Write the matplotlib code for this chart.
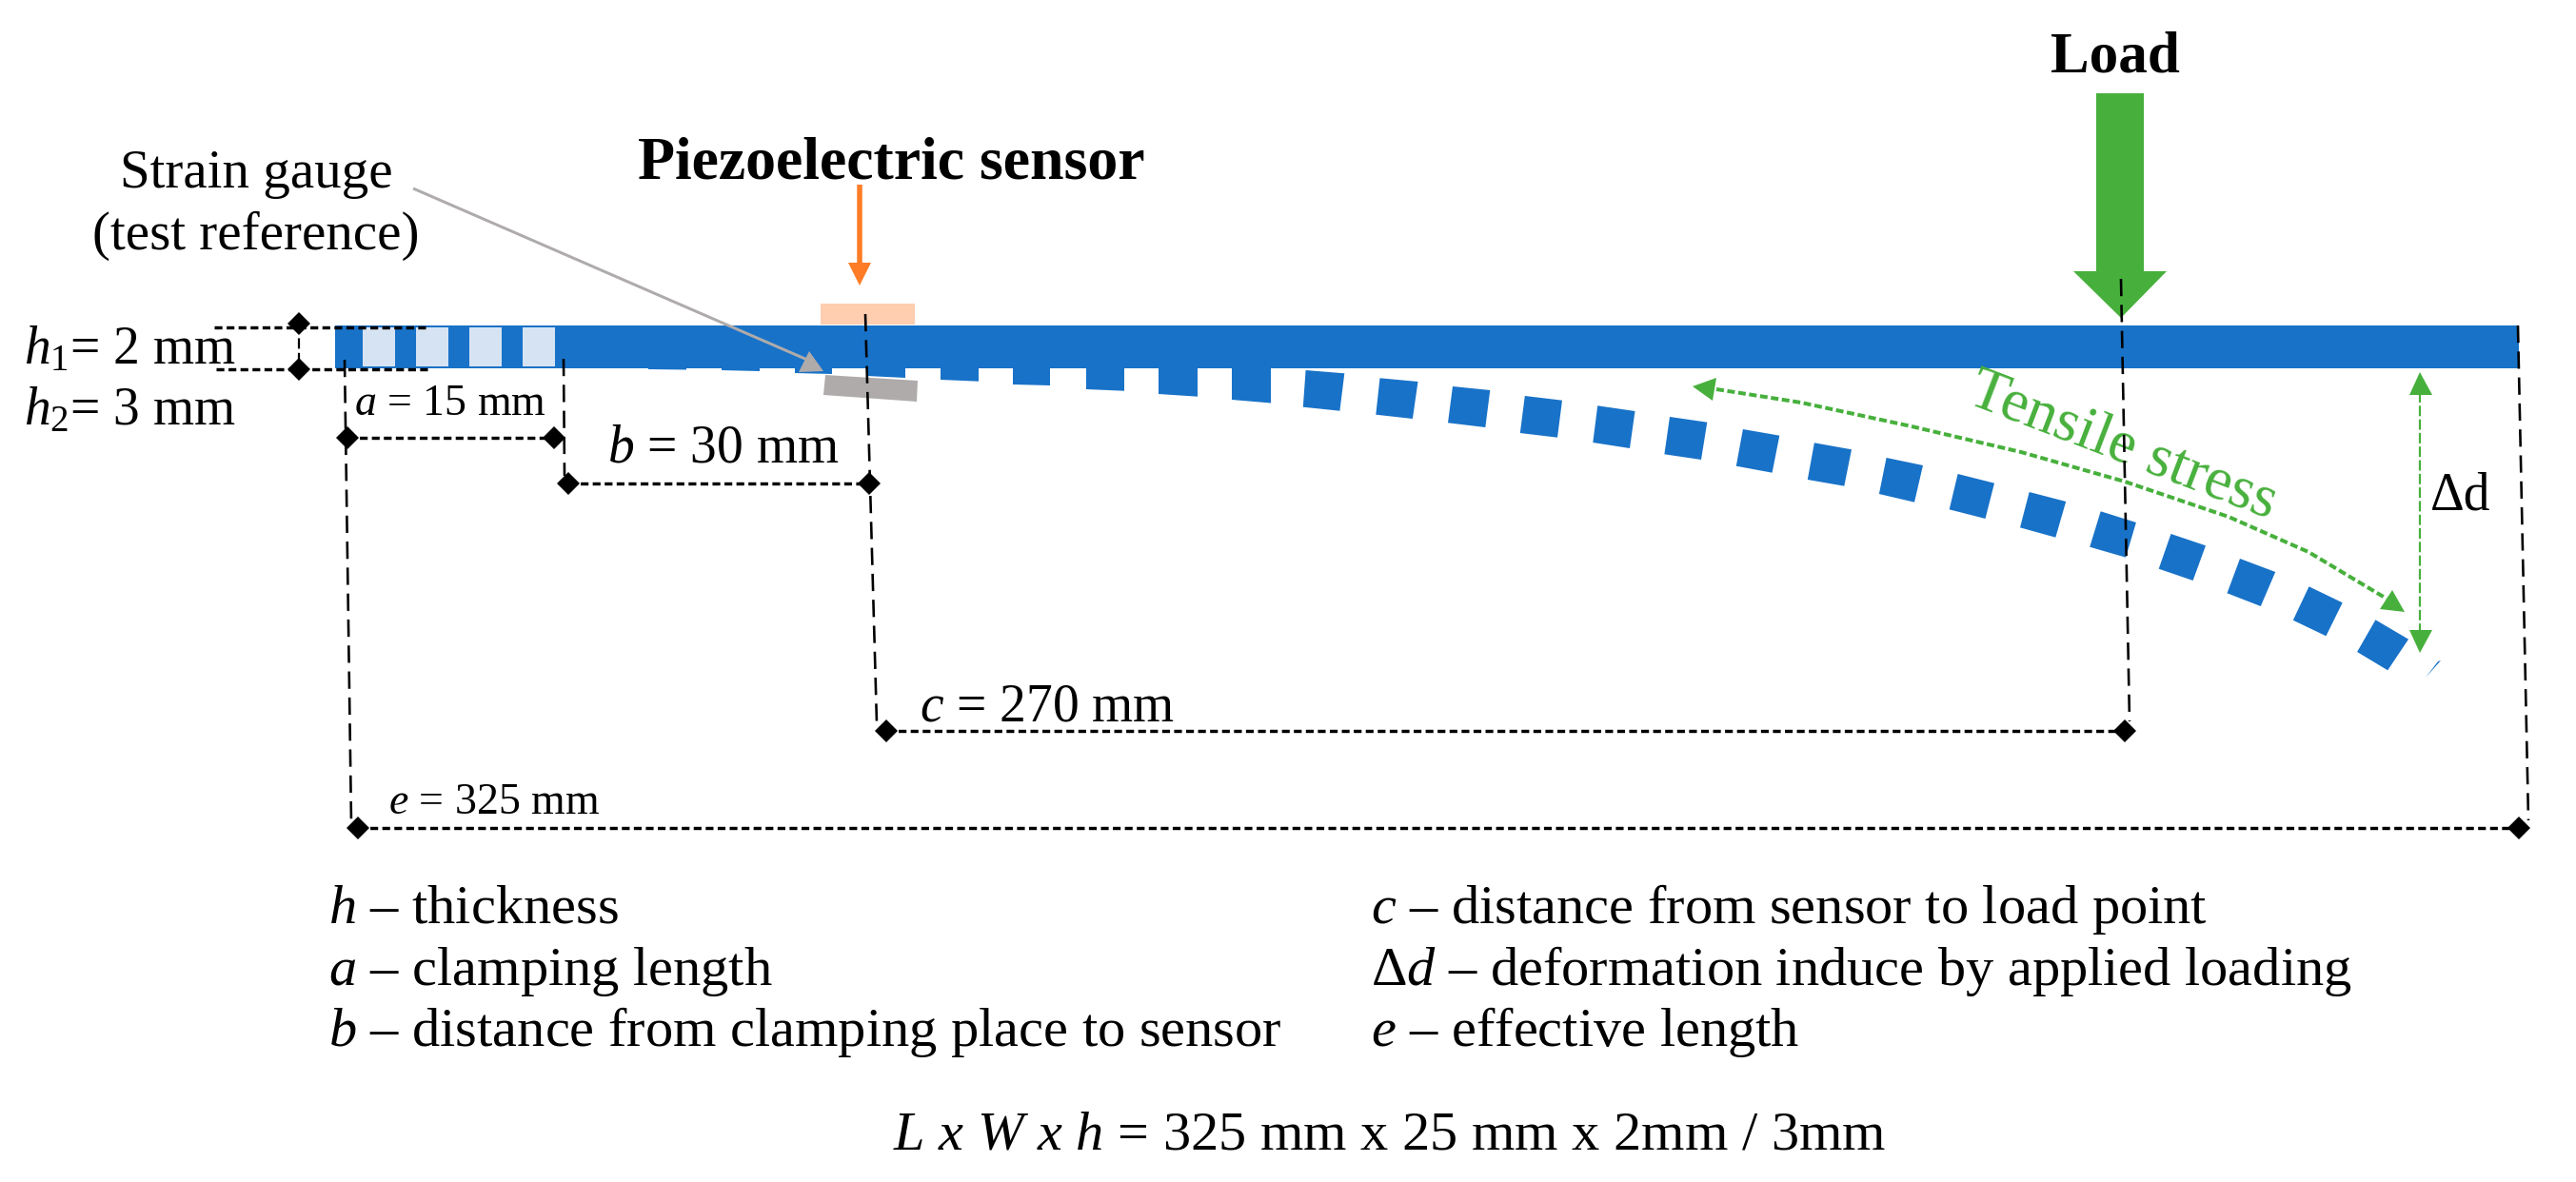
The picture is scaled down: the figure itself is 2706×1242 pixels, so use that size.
import matplotlib
matplotlib.use('Agg')
import matplotlib.pyplot as plt

plt.rcParams['font.family'] = ['Liberation Serif', 'DejaVu Serif']
plt.rcParams['mathtext.fontset'] = 'custom'
plt.rcParams['mathtext.rm'] = 'Liberation Serif'
plt.rcParams['mathtext.it'] = 'Liberation Serif:italic'
plt.rcParams['mathtext.bf'] = 'Liberation Serif:bold'

BLUE = '#1872C8'
GREEN = '#47B03C'
ORANGE = '#FE7C26'
GRAY = '#AFABAB'

# beam and clamp, in picture pixels
beam_x = [352, 2646]
beam_y = [342, 387]
clamp_left = [381, 437, 493, 549]
clamp_right = [415, 471, 527, 583]
clamp_y = [344, 385]

# teeth still hanging from the straight beam: left, right, bottom at left, bottom at right
hang_left = [681, 758, 835, 910, 988, 1064, 1141, 1217, 1294]
hang_right = [721, 798, 874, 951, 1028, 1103, 1181, 1258, 1335]
hang_bottom_l = [388, 389, 392, 395, 399, 404, 409, 414, 420]
hang_bottom_r = [388.5, 390, 393, 397, 400.7, 405, 410.7, 416.7, 423.5]

# free teeth of the bent beam: corners top-left, top-right, bottom-right, bottom-left
free_tl_x = [1371.6, 1449.5, 1526, 1601.8, 1678.2, 1754, 1830.9, 1905.9, 1981.6, 2056.6, 2131.7, 2206.7, 2280.5, 2353, 2425.5, 2495.4]
free_tl_y = [389, 397.3, 406, 416, 426.3, 438, 451, 465.3, 481, 498, 517, 537.3, 561, 587, 616.3, 651.3]
free_tr_x = [1412.3, 1489.5, 1565.3, 1641, 1717.5, 1793.3, 1869.3, 1945, 2020, 2095, 2170.2, 2243.9, 2317, 2390.2, 2460.7, 2530]
free_tr_y = [392.3, 401, 410, 420.7, 432, 443.7, 457.7, 472.3, 489, 507.7, 527, 549, 573.3, 601, 633.3, 671.7]
free_br_x = [1407.4, 1483.9, 1560.3, 1636, 1712, 1787, 1861.6, 1937.3, 2011, 2085.5, 2159.3, 2233, 2303.6, 2374.8, 2443.4, 2508.2]
free_br_y = [431.7, 440, 449, 459.7, 471, 483, 496.7, 510.7, 527.7, 545, 564.7, 585.7, 610, 637, 668.3, 704.3]
free_bl_x = [1368.8, 1445.3, 1521, 1596.8, 1673.3, 1748.4, 1823.8, 1898.8, 1973.9, 2047.7, 2122, 2195.2, 2267.7, 2339.5, 2408.8, 2476.1]
free_bl_y = [427.7, 435.7, 444.3, 455, 465, 477.3, 489.7, 504, 519, 535.3, 554.3, 574.7, 597.7, 623.3, 651.7, 685]
sliver_x = [2564, 2561, 2548]
sliver_y = [694, 695, 712]

# sensor and gauge
sensor_x = [862, 961]
sensor_y = [319, 341]
gauge_x = [867, 964, 963, 865]
gauge_y = [394, 400, 422, 415]

# dimension lines: (x0, x1, y) and guides (x0, y0, x1, y1)
dim_x0 = [365, 597, 931, 376]
dim_x1 = [582, 913, 2232, 2646]
dim_y = [460, 508, 768, 870]
guide_x0 = [362, 592, 909, 2228, 2645]
guide_y0 = [378, 377, 330, 293, 342]
guide_x1 = [369, 593, 921, 2237, 2656]
guide_y1 = [865, 500, 760, 758, 862]

# tensile stress curve
curve_x = [1803, 1892, 2008, 2123, 2232, 2341, 2425, 2507]
curve_y = [409, 423, 448, 475, 506, 543, 580, 629]

fig, ax = plt.subplots(figsize=(27.06, 12.42), dpi=100)
ax.set_position([0, 0, 1, 1])
ax.set_xlim(0, 2706)
ax.set_ylim(1242, 0)
ax.axis('off')


def px(n):
    return n * 0.72


def arrow_head(tip, left, right, color, z=5):
    ax.fill([tip[0], left[0], right[0]], [tip[1], left[1], right[1]], color=color, lw=0, zorder=z)


# beam
ax.fill([beam_x[0], beam_x[1], beam_x[1], beam_x[0]], [beam_y[0], beam_y[0], beam_y[1], beam_y[1]], color=BLUE, lw=0, zorder=2)
for l, r in zip(clamp_left, clamp_right):
    ax.fill([l, r, r, l], [clamp_y[0], clamp_y[0], clamp_y[1], clamp_y[1]], color='#D6E3F3', lw=0, zorder=3)
for l, r, bl, br in zip(hang_left, hang_right, hang_bottom_l, hang_bottom_r):
    ax.fill([l, r, r, l], [beam_y[1], beam_y[1], br, bl], color=BLUE, lw=0, zorder=2)
for i in range(len(free_tl_x)):
    ax.fill([free_tl_x[i], free_tr_x[i], free_br_x[i], free_bl_x[i]],
            [free_tl_y[i], free_tr_y[i], free_br_y[i], free_bl_y[i]], color=BLUE, lw=0, zorder=2)
ax.fill(sliver_x, sliver_y, color=BLUE, lw=0, zorder=2)

# sensor, gauge
ax.fill([sensor_x[0], sensor_x[1], sensor_x[1], sensor_x[0]], [sensor_y[0], sensor_y[0], sensor_y[1], sensor_y[1]], color='#FFCDAF', lw=0, zorder=3)
ax.fill(gauge_x, gauge_y, color=GRAY, lw=0, zorder=3)

# guides and dimensions
for x0, y0, x1, y1 in zip(guide_x0, guide_y0, guide_x1, guide_y1):
    ax.plot([x0, x1], [y0, y1], color='black', lw=px(2.6), dashes=(7, 3.5), zorder=6)
for x0, x1, y in zip(dim_x0, dim_x1, dim_y):
    ax.plot([x0, x1], [y, y], color='black', lw=px(3.4), dashes=(2.4, 1.3), zorder=6)
    ax.plot([x0, x1], [y, y], ls='none', marker='D', ms=px(17), color='black', mew=0, zorder=7)

# h1 dimension
ax.plot([225, 450], [344, 344], color='black', lw=px(3.4), dashes=(2.4, 1.3), zorder=6)
ax.plot([227, 450], [388, 388], color='black', lw=px(3.4), dashes=(2.4, 1.3), zorder=6)
ax.plot([314, 314], [340, 388], color='black', lw=px(2.2), dashes=(5, 2), zorder=6)
ax.plot([314, 314], [340, 388], ls='none', marker='D', ms=px(17), color='black', mew=0, zorder=7)

# arrows
ax.plot([903, 903], [194, 278], color=ORANGE, lw=px(5.5), solid_capstyle='butt', zorder=5)
arrow_head((903, 300), (891, 276), (915, 276), ORANGE)
ax.fill([2201.6, 2251.6, 2251.6, 2201.6], [98, 98, 286, 286], color=GREEN, lw=0, zorder=5)
arrow_head((2228, 334), (2178, 285), (2276, 285), GREEN)
ax.plot([2542, 2542], [412, 664], color=GREEN, lw=px(2.2), dashes=(5, 1.5), zorder=5)
arrow_head((2542, 391), (2531, 415), (2555, 415), GREEN)
arrow_head((2542, 686), (2531, 662), (2555, 662), GREEN)
ax.plot([434, 848], [198, 378], color=GRAY, lw=px(3), solid_capstyle='butt', zorder=5)
arrow_head((850, 369), (839, 391), (865, 390), GRAY)
ax.plot(curve_x, curve_y, color=GREEN, lw=px(4), dashes=(2, 0.9), zorder=5)
arrow_head((1778, 406), (1803, 397), (1799, 421), GREEN)
arrow_head((2526, 643), (2513, 620), (2500, 640), GREEN)

# labels
ax.text(2222, 75, 'Load', fontsize=44, fontweight='bold', ha='center', va='baseline')
ax.text(670, 188, 'Piezoelectric sensor', fontsize=46, fontweight='bold', va='baseline')
ax.text(269, 197, 'Strain gauge', fontsize=41, ha='center', va='baseline')
ax.text(269, 262, '(test reference)', fontsize=41, ha='center', va='baseline')
ax.text(25, 382, r'$h_{\mathit{1}}$= 2 mm', fontsize=40, va='baseline')
ax.text(25, 446, r'$h_{\mathit{2}}$= 3 mm', fontsize=40, va='baseline')
ax.text(372, 436, r'$a$ = 15 mm', fontsize=33, va='baseline')
ax.text(638, 486, r'$b$ = 30 mm', fontsize=40, va='baseline')
ax.text(966, 758, r'$c$ = 270 mm', fontsize=40, va='baseline')
ax.text(408, 855, r'$e$ = 325 mm', fontsize=33, va='baseline')
ax.text(2553, 535, '\u0394d', fontsize=40, va='baseline')
ax.text(2230, 470, 'Tensile stress', fontsize=46, color=GREEN, rotation=-21, ha='center', va='center', rotation_mode='anchor')

ax.text(345, 970, r'$h$ – thickness', fontsize=42, va='baseline')
ax.text(345, 1035, r'$a$ – clamping length', fontsize=42, va='baseline')
ax.text(345, 1099, r'$b$ – distance from clamping place to sensor', fontsize=42, va='baseline')
ax.text(1440, 970, r'$c$ – distance from sensor to load point', fontsize=42, va='baseline')
ax.text(1440, 1035, r'$\Delta d$ – deformation induce by applied loading', fontsize=42, va='baseline')
ax.text(1440, 1099, r'$e$ – effective length', fontsize=42, va='baseline')
ax.text(938, 1208, r'$L$ $x$ $W$ $x$ $h$ = 325 mm x 25 mm x 2mm / 3mm', fontsize=42, va='baseline')

fig.savefig('out.png', dpi=100)
